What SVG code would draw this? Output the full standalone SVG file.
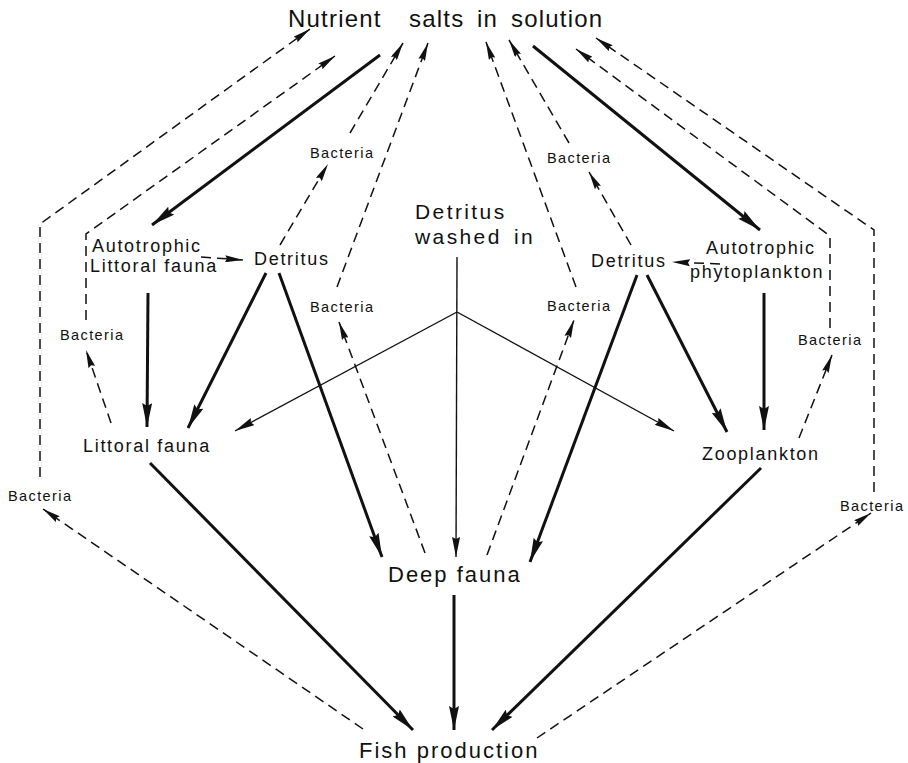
<svg xmlns="http://www.w3.org/2000/svg" width="908" height="763" viewBox="0 0 908 763">
<style>
text{font-family:"Liberation Sans",Arial,sans-serif;fill:#111}
.big{font-size:24px;letter-spacing:1.2px}
.mid{font-size:22px;letter-spacing:2px}
.wash{font-size:21px;letter-spacing:2.4px}
.lab{font-size:18px;letter-spacing:1.7px}
.bac{font-size:14.5px;letter-spacing:1.4px}
.thick{fill:none;stroke:#111;stroke-width:3;marker-end:url(#ah)}
.thinA{fill:none;stroke:#111;stroke-width:1.4;marker-end:url(#aht)}
.dash{fill:none;stroke:#111;stroke-width:1.5;stroke-dasharray:10 6;marker-end:url(#ahd)}
</style>
<defs>
<marker id="ah" markerUnits="userSpaceOnUse" viewBox="0 0 24 10" refX="24" refY="5" markerWidth="24" markerHeight="10" orient="auto"><path d="M0,0 L24,5 L0,10 L3,5 z" fill="#111"/></marker>
<marker id="ahd" markerUnits="userSpaceOnUse" viewBox="0 0 18 7" refX="18" refY="3.5" markerWidth="18" markerHeight="7" orient="auto"><path d="M0,0 L18,3.5 L0,7 L2,3.5 z" fill="#111"/></marker>
<marker id="aht" markerUnits="userSpaceOnUse" viewBox="0 0 20 8" refX="20" refY="4" markerWidth="20" markerHeight="8" orient="auto"><path d="M0,0 L20,4 L0,8 L2,4 z" fill="#111"/></marker>
</defs>
<rect width="908" height="763" fill="#fff"/>
<g id="connectors">
<path class="thick" d="M380,55 L152,225"/>
<path class="thick" d="M533,46 L760,230"/>
<path class="thick" d="M148,293 L147,427"/>
<path class="thick" d="M266,273 L188,428"/>
<path class="thick" d="M279,273 L382,557"/>
<path class="thick" d="M150,463 L413,730"/>
<path class="thick" d="M454,595 L454,730"/>
<path class="thick" d="M764,293 L764,430"/>
<path class="thick" d="M647,275 L727,432"/>
<path class="thick" d="M637,275 L530,562"/>
<path class="thick" d="M761,468 L492,730"/>
<path class="thinA" d="M457,257 L456,557"/>
<path class="thinA" d="M457,312 L235,431"/>
<path class="thinA" d="M457,312 L674,431"/>
<path class="dash" d="M40,477 L40,224 L310,29"/>
<path class="dash" d="M86,320 L86,234 L335,56"/>
<path class="dash" d="M280,245 L328,164"/>
<path class="dash" d="M350,133 L403,43"/>
<path class="dash" d="M337,287 L428,43"/>
<path class="dash" d="M425,553 L339,322"/>
<path class="dash" d="M111,423 L86,350"/>
<path class="dash" d="M363,729 L43,509"/>
<path class="dash" d="M201,257 L243,260"/>
<path class="dash" d="M874,492 L874,230 L596,38"/>
<path class="dash" d="M830,328 L830,236 L576,49"/>
<path class="dash" d="M631,245 L589,172"/>
<path class="dash" d="M569,143 L509,40"/>
<path class="dash" d="M576,287 L486,42"/>
<path class="dash" d="M487,555 L574,320"/>
<path class="dash" d="M799,438 L832,355"/>
<path class="dash" d="M537,738 L871,513"/>
<path class="dash" d="M720,264 L672,262"/>
</g>
<g id="nutrient"><text class="big" y="27"><tspan x="288">Nutrient</tspan><tspan x="409">salts</tspan><tspan x="477">in</tspan><tspan x="511">solution</tspan></text></g>
<g id="detritus-washed-in"><text class="wash" x="415" y="219">Detritus</text><text class="wash" x="415" y="244" word-spacing="4">washed in</text></g>
<g id="autotrophic-littoral"><text class="lab" x="92" y="252">Autotrophic</text><text class="lab" x="90" y="272">Littoral fauna</text></g>
<g id="detritus-left"><text class="lab" x="254" y="265">Detritus</text></g>
<g id="detritus-right"><text class="lab" x="591" y="267">Detritus</text></g>
<g id="autotrophic-phyto"><text class="lab" x="706" y="254">Autotrophic</text><text class="lab" x="690" y="278">phytoplankton</text></g>
<g id="littoral-fauna"><text class="lab" x="83" y="452">Littoral fauna</text></g>
<g id="zooplankton"><text class="lab" x="702" y="460">Zooplankton</text></g>
<g id="deep-fauna"><text class="mid" x="388" y="582">Deep fauna</text></g>
<g id="fish-production"><text class="mid" x="359" y="758" letter-spacing="2">Fish production</text></g>
<g id="bacteria-1"><text class="bac" x="310" y="158">Bacteria</text></g>
<g id="bacteria-2"><text class="bac" x="547" y="163">Bacteria</text></g>
<g id="bacteria-3"><text class="bac" x="310" y="312">Bacteria</text></g>
<g id="bacteria-4"><text class="bac" x="547" y="311">Bacteria</text></g>
<g id="bacteria-5"><text class="bac" x="60" y="340">Bacteria</text></g>
<g id="bacteria-6"><text class="bac" x="798" y="345">Bacteria</text></g>
<g id="bacteria-7"><text class="bac" x="8" y="501">Bacteria</text></g>
<g id="bacteria-8"><text class="bac" x="840" y="511">Bacteria</text></g>
</svg>
